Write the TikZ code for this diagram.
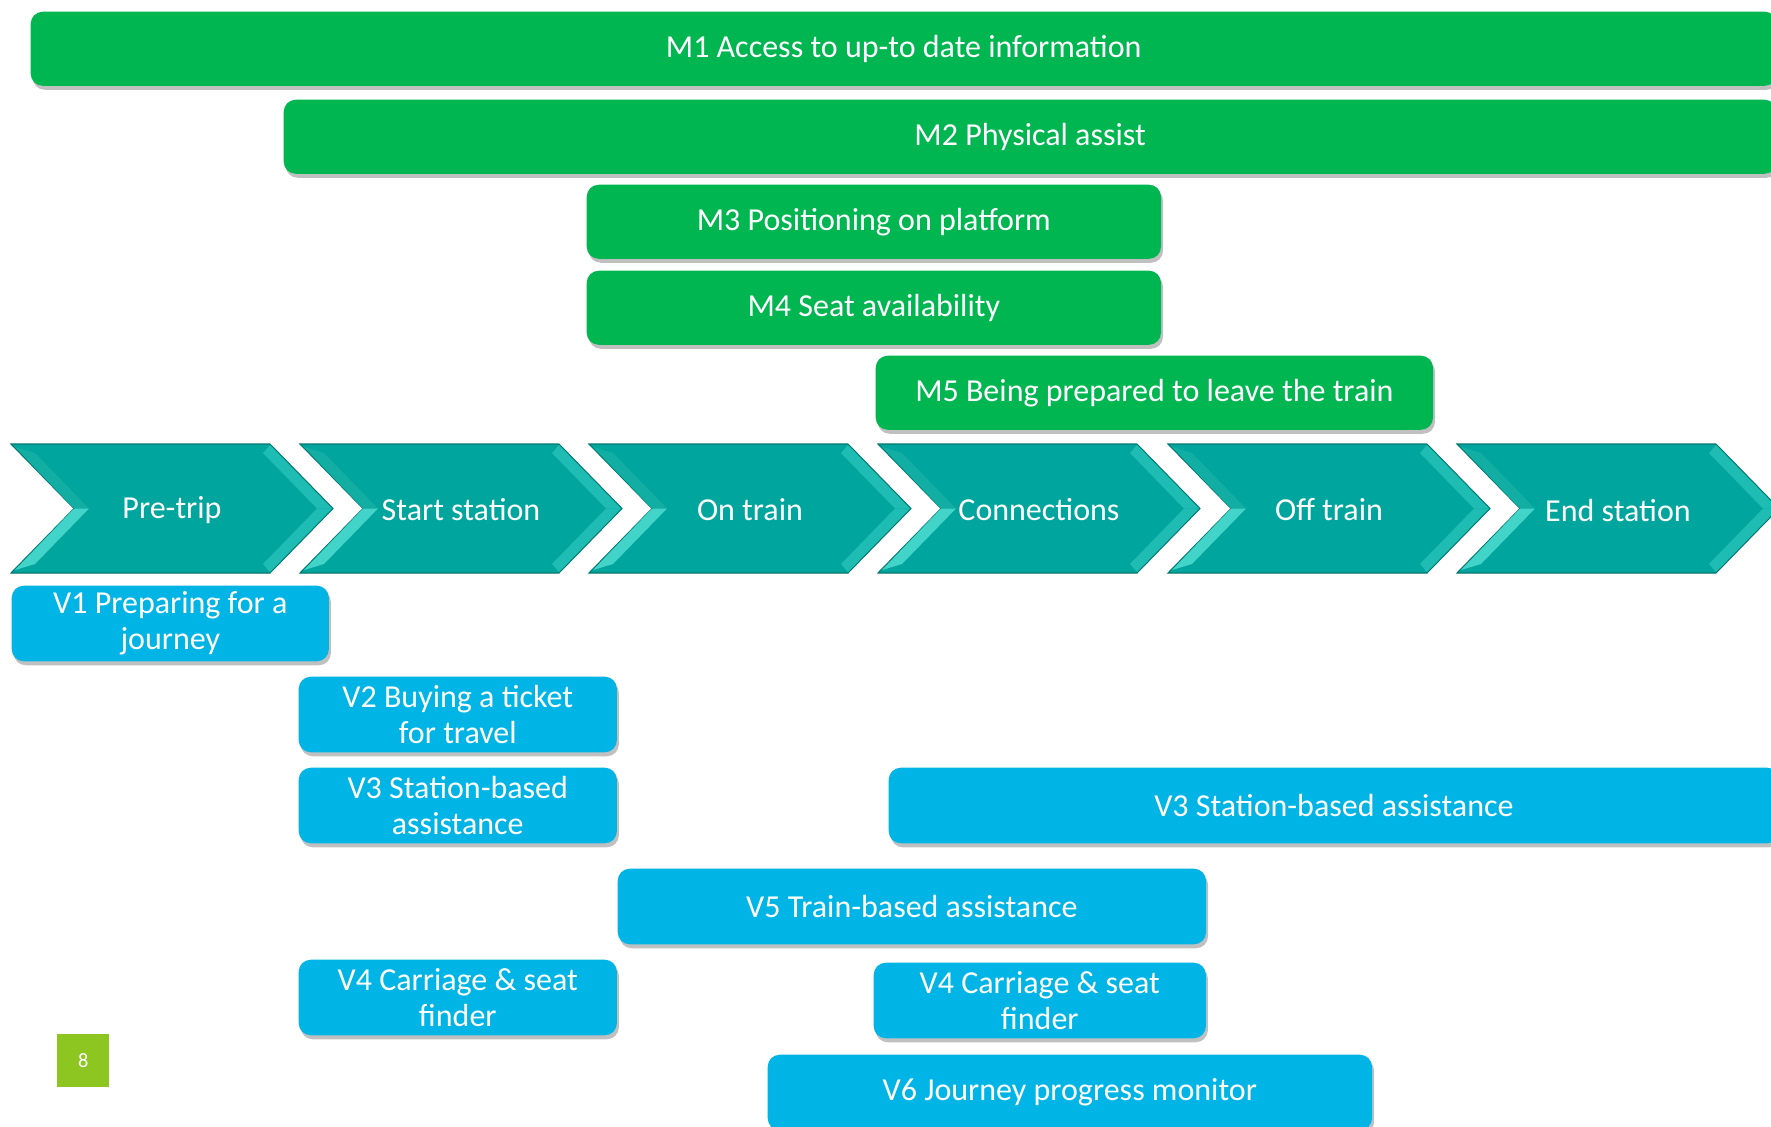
\documentclass[tikz,border=0pt]{standalone}
\usepackage{fontspec}
\setmainfont{Carlito}
\usetikzlibrary{shadows}
\definecolor{mgreen}{RGB}{0,182,81}
\definecolor{vblue}{RGB}{0,181,229}
\definecolor{chevfill}{RGB}{0,166,157}
\definecolor{chevedge}{RGB}{0,120,112}
\definecolor{bevlight}{RGB}{66,211,201}
\definecolor{bevmid}{RGB}{30,188,178}
\definecolor{bevdark}{RGB}{18,174,164}
\definecolor{pagegreen}{RGB}{141,198,32}
\tikzset{
  box/.style={rounded corners=0.12cm, anchor=north west, align=center, inner sep=0pt, text=white,
    font=\fontsize{9.1}{10.2}\selectfont,
    drop shadow={shadow xshift=0.02cm, shadow yshift=-0.04cm, opacity=0.35, fill=black!70}},
  mbox/.style={box, fill=mgreen, minimum height=0.74cm},
  vbox/.style={box, fill=vblue, minimum height=0.755cm},
  chev/.style={fill=chevfill, draw=chevedge, line width=0.3pt},
  stage/.style={text=white, font=\fontsize{9.1}{10.2}\selectfont},
  pagebox/.style={fill=pagegreen, anchor=north west, inner sep=0pt, text=white,
    minimum width=0.52cm, minimum height=0.53cm, font=\fontsize{5.8}{6}\selectfont},
}

\begin{document}
\begin{tikzpicture}[x=0.01cm, y=-0.01cm]
    \fill[white] (0,0) rectangle (1771,1126);
    \useasboundingbox (0,0) rectangle (1771,1126);
    % measures
    \node[mbox, minimum width=17.45cm] (m1) at (30,11) {M1 Access to up-to date information};
    \node[mbox, minimum width=14.92cm] (m2) at (283,99) {M2 Physical assist};
    \node[mbox, minimum width=5.74cm] (m3) at (586,184) {M3 Positioning on platform};
    \node[mbox, minimum width=5.74cm] (m4) at (586,270) {M4 Seat availability};
    \node[mbox, minimum width=5.57cm] (m5) at (875,355) {M5 Being prepared to leave the train};
    % journey stages
    \foreach \x/\name/\lbl in {11/pre/Pre-trip, 300/start/Start station, 589/ontrain/On train,
        878/conn/Connections, 1168/off/Off train, 1457/endst/End station}{
      \path[chev] (\x,444) -- (\x+259,444) -- (\x+322,508.5) -- (\x+259,573) -- (\x,573) -- (\x+63,508.5) -- cycle;
      \fill[bevdark] (\x+4,447) -- (\x+63,508.5) -- (\x+78,508.5) -- (\x+24,453) -- cycle;
      \fill[bevlight] (\x+63,508.5) -- (\x+4,570) -- (\x+24,564) -- (\x+78,508.5) -- cycle;
      \fill[bevmid] (\x+259,445) -- (\x+321,508.5) -- (\x+306,508.5) -- (\x+252,453) -- cycle;
      \fill[bevmid] (\x+321,508.5) -- (\x+259,572) -- (\x+252,564) -- (\x+306,508.5) -- cycle;
      \node[stage] (\name) at (\x+161,510) {\lbl};
    }
    % views
    \node[vbox, minimum width=3.17cm] (v1) at (11,585) {V1 Preparing for a\\journey};
    \node[vbox, minimum width=3.18cm] (v2) at (298,676) {V2 Buying a ticket\\for travel};
    \node[vbox, minimum width=3.18cm] (v3a) at (298,767) {V3 Station-based\\assistance};
    \node[vbox, minimum width=8.9cm] (v3b) at (888,767) {V3 Station-based assistance};
    \node[vbox, minimum width=5.88cm] (v5) at (617,868) {V5 Train-based assistance};
    \node[vbox, minimum width=3.18cm] (v4a) at (298,959) {V4 Carriage \& seat\\finder};
    \node[vbox, minimum width=3.32cm] (v4b) at (873,962) {V4 Carriage \& seat\\finder};
    \node[vbox, minimum width=6.04cm] (v6) at (767,1054) {V6 Journey progress monitor};
    \node[pagebox] (page) at (56.5,1033.5) {8};
  \end{tikzpicture}
\end{document}
